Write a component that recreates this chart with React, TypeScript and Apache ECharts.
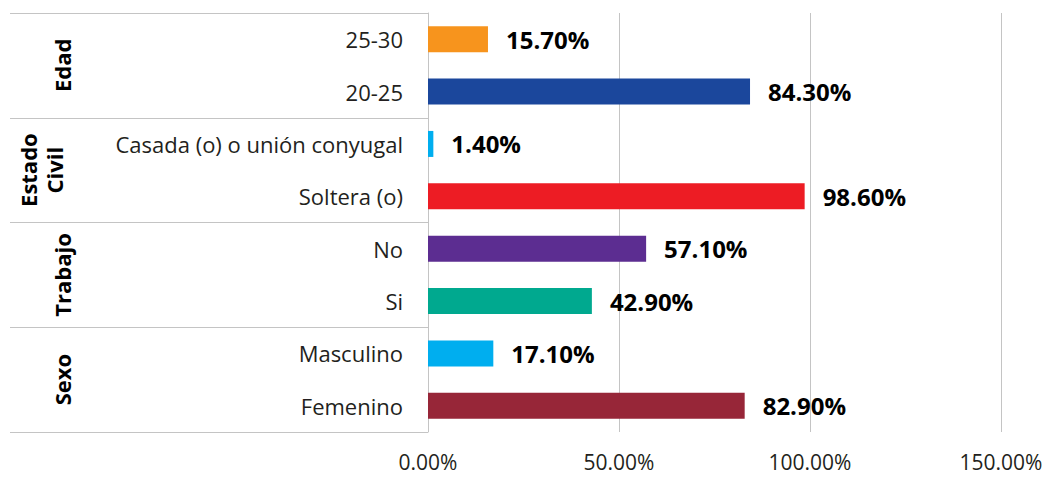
import React, { useEffect, useRef } from "react";
import * as echarts from "echarts";

const categories = [
  "25-30",
  "20-25",
  "Casada (o) o unión conyugal",
  "Soltera (o)",
  "No",
  "Si",
  "Masculino",
  "Femenino",
];
const values = [15.7, 84.3, 1.4, 98.6, 57.1, 42.9, 17.1, 82.9];
const barColors = [
  "#F7941D",
  "#1B479C",
  "#00AEEF",
  "#ED1C24",
  "#5C2D91",
  "#00A98F",
  "#00AEEF",
  "#972638",
];
const groups = ["Edad", "Estado\nCivil", "Trabajo", "Sexo"];
const groupSizes = [2, 2, 2, 2];
const xTicks = [0, 50, 100, 150];

const FONT = "'Open Sans', 'Noto Sans', sans-serif";
const GROUP_X = [62, 41, 62, 62];

export default function App() {
  const ref = useRef<HTMLDivElement>(null);

  useEffect(() => {
    if (!ref.current) return;
    const chart = echarts.init(ref.current, undefined, { renderer: "svg" });
    const option: any = {
      animation: false,
      grid: [
        { left: 428, right: 47, top: 13, bottom: 46 },
        { left: 10, width: 418, top: 13, bottom: 46 },
      ],
      xAxis: [
        {
          type: "value",
          gridIndex: 0,
          min: xTicks[0],
          max: xTicks[xTicks.length - 1],
          interval: xTicks[1] - xTicks[0],
          axisLine: { show: false },
          axisTick: { show: false },
          splitLine: { show: true, lineStyle: { color: "#c4c4c4", width: 1 } },
          axisLabel: {
            formatter: (v: number) => v.toFixed(2) + "%",
            margin: 19,
            fontSize: 21,
            lineHeight: 21,
            color: "#231f20",
            fontFamily: FONT,
          },
        },
        { type: "value", gridIndex: 1, show: false },
      ],
      yAxis: [
        {
          type: "category",
          gridIndex: 0,
          data: categories,
          inverse: true,
          axisLine: { show: true, lineStyle: { color: "#c4c4c4", width: 1 } },
          axisTick: { show: false },
          axisLabel: {
            margin: 25,
            fontSize: 22,
            color: "#231f20",
            fontFamily: FONT,
          },
        },
        {
          type: "category",
          gridIndex: 1,
          data: groups,
          inverse: true,
          axisLine: { show: false },
          axisTick: { show: false },
          axisLabel: { show: false },
          splitLine: {
            show: true,
            interval: 0,
            lineStyle: { color: "#c4c4c4", width: 1 },
          },
        },
      ],
      series: [
        {
          type: "bar",
          xAxisIndex: 0,
          yAxisIndex: 0,
          barWidth: 26,
          data: values.map((v, i) => ({
            value: v,
            itemStyle: { color: barColors[i] },
          })),
          label: {
            show: true,
            position: "right",
            distance: 18,
            formatter: (p: any) => Number(p.value).toFixed(2) + "%",
            fontWeight: "bold",
            fontSize: 24,
            color: "#000",
            fontFamily: FONT,
          },
        },
      ],
    };
    chart.setOption(option);

    const graphics: any[] = [];
    let start = 0;
    groups.forEach((g, gi) => {
      const end = start + groupSizes[gi] - 1;
      const y0 = chart.convertToPixel({ yAxisIndex: 0 }, categories[start]) as number;
      const y1 = chart.convertToPixel({ yAxisIndex: 0 }, categories[end]) as number;
      graphics.push({
        type: "text",
        x: GROUP_X[gi],
        y: (y0 + y1) / 2,
        rotation: Math.PI / 2,
        style: {
          text: g,
          fontSize: 22,
          fontWeight: "bold",
          fontFamily: FONT,
          fill: "#000",
          align: "center",
          verticalAlign: "middle",
          lineHeight: 26,
        },
      });
      start = end + 1;
    });
    chart.setOption({ graphic: graphics });

    return () => chart.dispose();
  }, []);

  return (
    <div
      ref={ref}
      style={{ position: "fixed", left: 0, top: 0, width: 1048, height: 478, background: "#fff" }}
    />
  );
}
